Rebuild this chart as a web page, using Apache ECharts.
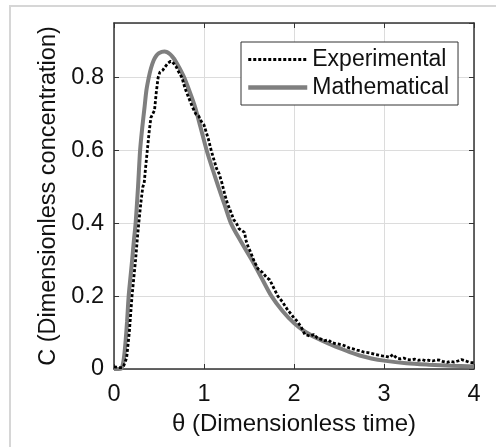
<!DOCTYPE html>
<html>
<head>
<meta charset="utf-8">
<script src="https://cdn.jsdelivr.net/npm/echarts@6/dist/echarts.min.js"></script>
<style>
html,body{margin:0;padding:0;background:#fff;}
#chart{width:496px;height:447px;}
</style>
</head>
<body>
<div id="chart"></div>
<script>
// ---- data ----
const xTicks = [0, 1, 2, 3, 4];
const yTicks = [0, 0.2, 0.4, 0.6, 0.8];
const seriesNames = ['Experimental', 'Mathematical'];
const xTitle = 'θ (Dimensionless time)';
const yTitle = 'C (Dimensionless concentration)';

const expTheta = [0.00,0.03,0.06,0.09,0.11,0.14,0.17,0.20,0.22,0.24,0.26,0.275,0.30,0.32,0.335,0.35,0.37,0.39,0.41,0.43,0.45,0.47,0.49,0.51,0.54,0.57,0.60,0.63,0.66,0.69,0.72,0.755,0.79,0.83,0.87,0.91,0.94,0.97,1.00,1.02,1.05,1.08,1.11,1.14,1.17,1.20,1.23,1.26,1.30,1.33,1.36,1.39,1.42,1.45,1.47,1.49,1.52,1.55,1.60,1.65,1.70,1.73,1.77,1.82,1.87,1.93,1.97,2.00,2.04,2.08,2.12,2.14,2.18,2.22,2.26,2.30,2.34,2.38,2.42,2.46,2.50,2.54,2.58,2.62,2.66,2.70,2.74,2.78,2.82,2.86,2.90,2.94,2.98,3.02,3.06,3.10,3.14,3.18,3.22,3.26,3.30,3.34,3.38,3.42,3.46,3.50,3.54,3.58,3.62,3.66,3.70,3.74,3.78,3.82,3.86,3.88,3.91,3.95,4.00];
const expC = [0.006,0.005,0.004,0.004,0.010,0.030,0.100,0.200,0.250,0.300,0.360,0.400,0.460,0.500,0.510,0.550,0.600,0.650,0.690,0.700,0.710,0.760,0.800,0.815,0.820,0.830,0.840,0.845,0.840,0.830,0.815,0.800,0.770,0.745,0.720,0.700,0.695,0.680,0.670,0.665,0.630,0.600,0.575,0.550,0.535,0.510,0.480,0.455,0.430,0.410,0.400,0.385,0.380,0.375,0.350,0.336,0.320,0.300,0.275,0.265,0.250,0.245,0.225,0.200,0.185,0.162,0.150,0.140,0.130,0.115,0.095,0.100,0.090,0.095,0.085,0.082,0.078,0.080,0.072,0.070,0.068,0.066,0.062,0.057,0.055,0.052,0.050,0.046,0.045,0.043,0.040,0.038,0.036,0.035,0.032,0.040,0.030,0.028,0.030,0.026,0.025,0.027,0.024,0.026,0.023,0.024,0.022,0.025,0.024,0.020,0.018,0.021,0.019,0.022,0.026,0.030,0.022,0.018,0.017];

const mathTheta = [0.00,0.05,0.08,0.10,0.115,0.13,0.145,0.163,0.18,0.20,0.22,0.24,0.267,0.29,0.315,0.34,0.36,0.386,0.41,0.44,0.47,0.50,0.53,0.56,0.59,0.62,0.65,0.68,0.73,0.78,0.84,0.90,0.96,1.03,1.10,1.16,1.23,1.30,1.41,1.53,1.64,1.75,1.87,2.00,2.12,2.25,2.38,2.50,2.62,2.73,2.86,3.00,3.25,3.50,3.75,4.00];
const mathC = [0.000,0.000,0.001,0.015,0.040,0.080,0.130,0.200,0.245,0.295,0.350,0.400,0.500,0.600,0.665,0.720,0.765,0.800,0.825,0.847,0.860,0.867,0.871,0.872,0.870,0.865,0.857,0.847,0.825,0.800,0.762,0.720,0.665,0.600,0.545,0.500,0.450,0.400,0.350,0.300,0.250,0.200,0.160,0.126,0.103,0.085,0.070,0.058,0.046,0.037,0.029,0.023,0.016,0.012,0.009,0.007];

// ---- build ----
const pair = (xs, ys) => xs.map((x, i) => [x, ys[i]]);
const FONT = '"Liberation Sans", Arial, sans-serif';
const AX = '#333333';
const GRID = '#dcdcdc';

const chart = echarts.init(document.getElementById('chart'), null, {renderer: 'canvas'});

const baseX = {
  type: 'value', min: 0, max: 4, interval: 1,
  axisLine: {show: true, onZero: false, lineStyle: {color: AX, width: 1.5}},
  axisTick: {show: true, inside: true, length: 5, lineStyle: {color: AX, width: 1}},
};
const baseY = {
  type: 'value', min: 0, max: 0.95, interval: 0.2,
  axisLine: {show: true, onZero: false, lineStyle: {color: AX, width: 1.5}},
  axisTick: {show: true, inside: true, length: 5, lineStyle: {color: AX, width: 1}},
};

chart.setOption({
  animation: false,
  backgroundColor: '#fff',
  textStyle: {fontFamily: FONT},
  graphic: [{
    type: 'rect', silent: true, z: -10,
    shape: {x: 10, y: 6, width: 500, height: 460},
    style: {fill: 'none', stroke: '#d6d6d6', lineWidth: 2}
  }],
  grid: {left: 114, right: 22, top: 23, bottom: 78, containLabel: false},
  legend: {
    data: [
      {name: seriesNames[0], lineStyle: {width: 2.8}},
      {name: seriesNames[1], lineStyle: {width: 4.5}}
    ],
    orient: 'vertical',
    left: 241, top: 42,
    itemWidth: 59, itemHeight: 22, itemGap: 5,
    padding: [6, 9, 6, 5],
    borderColor: '#333', borderWidth: 1,
    backgroundColor: '#fff',
    itemStyle: {opacity: 0},
    textStyle: {fontSize: 23, lineHeight: 22, color: '#111', fontFamily: FONT},
    z: 10
  },
  xAxis: [
    Object.assign({}, baseX, {
      position: 'bottom',
      name: xTitle, nameLocation: 'middle', nameGap: 41,
      nameTextStyle: {fontSize: 24, color: '#111', fontFamily: FONT},
      axisLabel: {show: true, fontSize: 23.5, color: '#111', margin: 14, fontFamily: FONT},
      splitLine: {show: true, lineStyle: {color: GRID, width: 1}}
    }),
    Object.assign({}, baseX, {
      position: 'top', axisLabel: {show: false}, splitLine: {show: false}
    })
  ],
  yAxis: [
    Object.assign({}, baseY, {
      position: 'left',
      name: yTitle, nameLocation: 'middle', nameGap: 44,
      nameTextStyle: {fontSize: 23.5, color: '#111', fontFamily: FONT},
      axisLabel: {show: true, fontSize: 23.5, color: '#111', margin: 10, fontFamily: FONT,
        showMaxLabel: false,
        formatter: v => (v === 0 ? '0' : v.toFixed(1))},
      splitLine: {show: true, lineStyle: {color: GRID, width: 1}}
    }),
    Object.assign({}, baseY, {
      position: 'right', axisLabel: {show: false}, splitLine: {show: false}
    })
  ],
  series: [
    {
      name: 'Mathematical', type: 'line', xAxisIndex: 0, yAxisIndex: 0,
      data: pair(mathTheta, mathC),
      showSymbol: false, symbol: 'none', smooth: 0.3,
      lineStyle: {color: '#7f7f7f', width: 4},
      itemStyle: {color: '#7f7f7f'},
      z: 3
    },
    {
      name: 'Experimental', type: 'line', xAxisIndex: 0, yAxisIndex: 0,
      data: pair(expTheta, expC),
      showSymbol: false, symbol: 'none',
      lineStyle: {color: '#000', width: 2.8, type: [3, 2], cap: 'butt'},
      itemStyle: {color: '#000'},
      z: 4
    }
  ]
});
</script>
</body>
</html>
